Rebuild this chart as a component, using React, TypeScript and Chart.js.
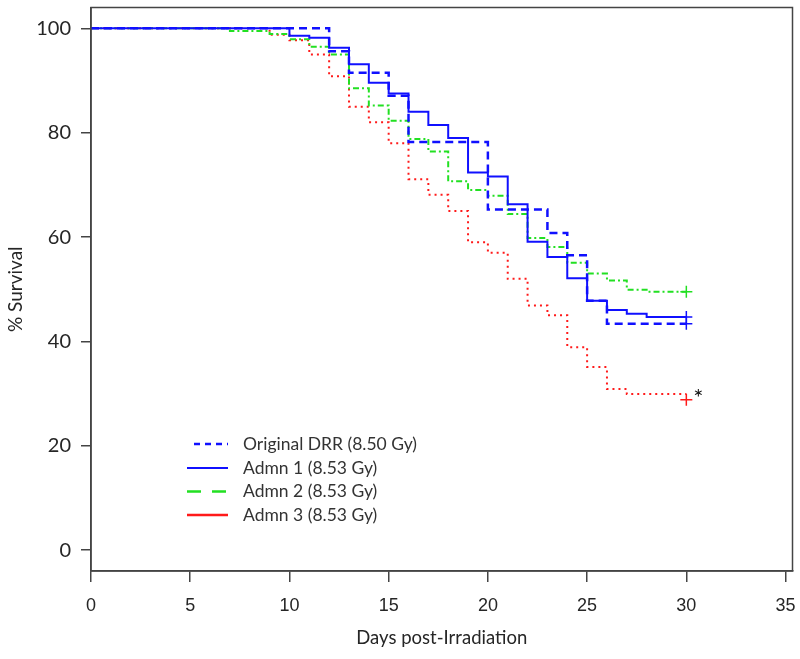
import React, { useEffect, useRef } from "react";
import { Chart, registerables } from "chart.js";

Chart.register(...registerables);

// Day index 0..30 (survival after that day's events)
const days = [0, 1, 2, 3, 4, 5, 6, 7, 8, 9, 10, 11, 12, 13, 14, 15, 16, 17, 18, 19, 20, 21, 22, 23, 24, 25, 26, 27, 28, 29, 30];

const drrSurvival = [100, 100, 100, 100, 100, 100, 100, 100, 100, 100, 100, 100, 95.6, 91.5, 91.5, 87.1, 78.2, 78.2, 78.2, 78.2, 65.3, 65.3, 65.3, 60.8, 56.5, 47.8, 43.4, 43.4, 43.4, 43.4, 43.4];
const admn1Survival = [100, 100, 100, 100, 100, 100, 100, 100, 100, 100, 98.6, 98.2, 96.3, 93.1, 89.6, 87.5, 84.0, 81.5, 79.0, 72.4, 71.6, 66.3, 59.1, 56.2, 52.1, 47.8, 46.0, 45.3, 44.7, 44.7, 44.7];
const admn2Survival = [100, 100, 100, 100, 100, 100, 100, 99.5, 99.5, 98.9, 97.9, 96.5, 95.0, 88.5, 85.2, 82.3, 78.8, 76.4, 70.7, 69.0, 67.9, 64.4, 59.8, 58.1, 55.1, 53.0, 51.7, 49.9, 49.5, 49.5, 49.5];
const admn3Survival = [100, 100, 100, 100, 100, 100, 100, 100, 100, 98.8, 97.7, 95.0, 90.8, 85.0, 82.0, 78.0, 71.1, 68.1, 65.0, 59.0, 57.0, 52.0, 46.9, 45.0, 38.9, 35.1, 30.9, 29.9, 29.9, 29.9, 29.9];

// Censor marks at end of follow-up: [DRR, Admn1, Admn2, Admn3]
const censorDay = 30;
const censorSurvival = [43.4, 44.7, 49.5, 28.8];

const seriesLabels = ["Original DRR (8.50 Gy)", "Admn 1 (8.53 Gy)", "Admn 2 (8.53 Gy)", "Admn 3 (8.53 Gy)"];
const seriesColors = ["#1010ff", "#1010ff", "#22e022", "#ff1a1a"];

const xTicks = [0, 5, 10, 15, 20, 25, 30, 35];
const yTicks = [0, 20, 40, 60, 80, 100];

// significance annotation
const asteriskDay = 30.6;
const asteriskSurvival = 30.3;

const toPoints = (vals: number[]) => days.map((d, i) => ({ x: d, y: vals[i] }));

const TEXT = "#262626";
const AXIS = "#444444";
const labelFont = "Lato, 'Noto Sans', sans-serif";

const boxAndLegendPlugin = {
  id: "boxAndLegend",
  afterDraw(chart: any) {
    const { ctx, chartArea, scales } = chart;
    ctx.save();
    // box
    ctx.strokeStyle = AXIS;
    ctx.lineWidth = 1.5;
    ctx.strokeRect(chartArea.left, chartArea.top, chartArea.right - chartArea.left, chartArea.bottom - chartArea.top);

    // asterisk
    ctx.fillStyle = "#111";
    ctx.font = `24px ${labelFont}`;
    ctx.textAlign = "center";
    ctx.textBaseline = "middle";
    ctx.fillText("*", scales.x.getPixelForValue(asteriskDay), scales.y.getPixelForValue(asteriskSurvival) + 6);

    // legend
    const x0 = 187;
    const x1 = 228;
    const rowY = [444, 468, 491.5, 515];
    const dashes = [[6, 5], [], [14, 11], []];
    const widths = [2.5, 2, 2.5, 2.5];
    const startOff = [7, 0, 0, 0];
    seriesLabels.forEach((lab, i) => {
      ctx.beginPath();
      ctx.setLineDash(dashes[i]);
      ctx.strokeStyle = seriesColors[i];
      ctx.lineWidth = widths[i];
      ctx.moveTo(x0 + startOff[i], rowY[i]);
      ctx.lineTo(x1, rowY[i]);
      ctx.stroke();
      ctx.setLineDash([]);
      ctx.fillStyle = "#333";
      ctx.font = `17.5px ${labelFont}`;
      ctx.textAlign = "left";
      ctx.textBaseline = "middle";
      ctx.fillText(lab, 243, rowY[i]);
    });
    ctx.restore();
  },
};

export default function App() {
  const canvasRef = useRef<HTMLCanvasElement | null>(null);

  useEffect(() => {
    if (!canvasRef.current) return;
    const chart = new Chart(canvasRef.current, {
      type: "line",
      data: {
        datasets: [
          {
            label: seriesLabels[1],
            data: toPoints(admn1Survival),
            borderColor: seriesColors[1],
            borderWidth: 2,
            stepped: "before",
            pointRadius: 0,
            fill: false,
          },
          {
            label: seriesLabels[0],
            data: toPoints(drrSurvival),
            borderColor: seriesColors[0],
            borderWidth: 2.5,
            borderDash: [8, 5],
            stepped: "before",
            pointRadius: 0,
            fill: false,
          },
          {
            label: seriesLabels[2],
            data: toPoints(admn2Survival),
            borderColor: seriesColors[2],
            borderWidth: 2,
            borderDash: [6, 3, 2, 3],
            stepped: "before",
            pointRadius: 0,
            fill: false,
          },
          {
            label: seriesLabels[3],
            data: toPoints(admn3Survival),
            borderColor: seriesColors[3],
            borderWidth: 2,
            borderDash: [2, 4],
            stepped: "before",
            pointRadius: 0,
            fill: false,
          },
          ...censorSurvival.map((v, i) => ({
            type: "scatter" as const,
            label: "censor" + i,
            data: [{ x: censorDay, y: v }],
            showLine: false,
            pointStyle: "cross",
            pointRadius: 6,
            pointBorderWidth: 1.5,
            borderColor: seriesColors[i],
            backgroundColor: seriesColors[i],
          })),
        ] as any,
      },
      options: {
        animation: false,
        responsive: true,
        maintainAspectRatio: false,
        layout: { padding: { top: 7, right: 6, left: 0, bottom: 0 } },
        plugins: { legend: { display: false }, tooltip: { enabled: false } },
        scales: {
          x: {
            type: "linear",
            min: 0,
            max: 35.35,
            afterBuildTicks: (s: any) => {
              s.ticks = xTicks.map((v) => ({ value: v }));
            },
            afterFit: (s: any) => {
              s.height = 88;
              s.paddingLeft = 0;
              s.paddingRight = 0;
            },
            ticks: {
              autoSkip: false,
              maxRotation: 0,
              padding: 13,
              color: TEXT,
              font: { family: "'Liberation Sans Narrow', 'Liberation Sans', Arial, sans-serif", size: 18 },
            },
            grid: { drawOnChartArea: false, drawTicks: true, tickLength: 11, color: AXIS, lineWidth: 1.5 },
            border: { display: true, color: AXIS, width: 1.5 },
            title: {
              display: true,
              text: "Days post-Irradiation",
              color: TEXT,
              font: { family: labelFont, size: 18.5 },
              padding: { top: 4, bottom: 10 },
            },
          },
          y: {
            type: "linear",
            min: -4,
            max: 104,
            afterBuildTicks: (s: any) => {
              s.ticks = yTicks.map((v) => ({ value: v }));
            },
            afterFit: (s: any) => {
              s.width = 91;
              s.paddingTop = 0;
              s.paddingBottom = 0;
            },
            ticks: {
              padding: 10,
              color: TEXT,
              font: { family: labelFont, size: 20 },
            },
            grid: { drawOnChartArea: false, drawTicks: true, tickLength: 10, color: AXIS, lineWidth: 1.5 },
            border: { display: true, color: AXIS, width: 1.5 },
            title: {
              display: true,
              text: "% Survival",
              color: TEXT,
              font: { family: labelFont, size: 19 },
              padding: { top: 4, bottom: 4 },
            },
          },
        },
      },
      plugins: [boxAndLegendPlugin],
    });
    return () => chart.destroy();
  }, []);

  return (
    <div style={{ position: "absolute", left: 0, top: 0, width: 800, height: 659, background: "#fff" }}>
      <canvas ref={canvasRef} />
    </div>
  );
}
